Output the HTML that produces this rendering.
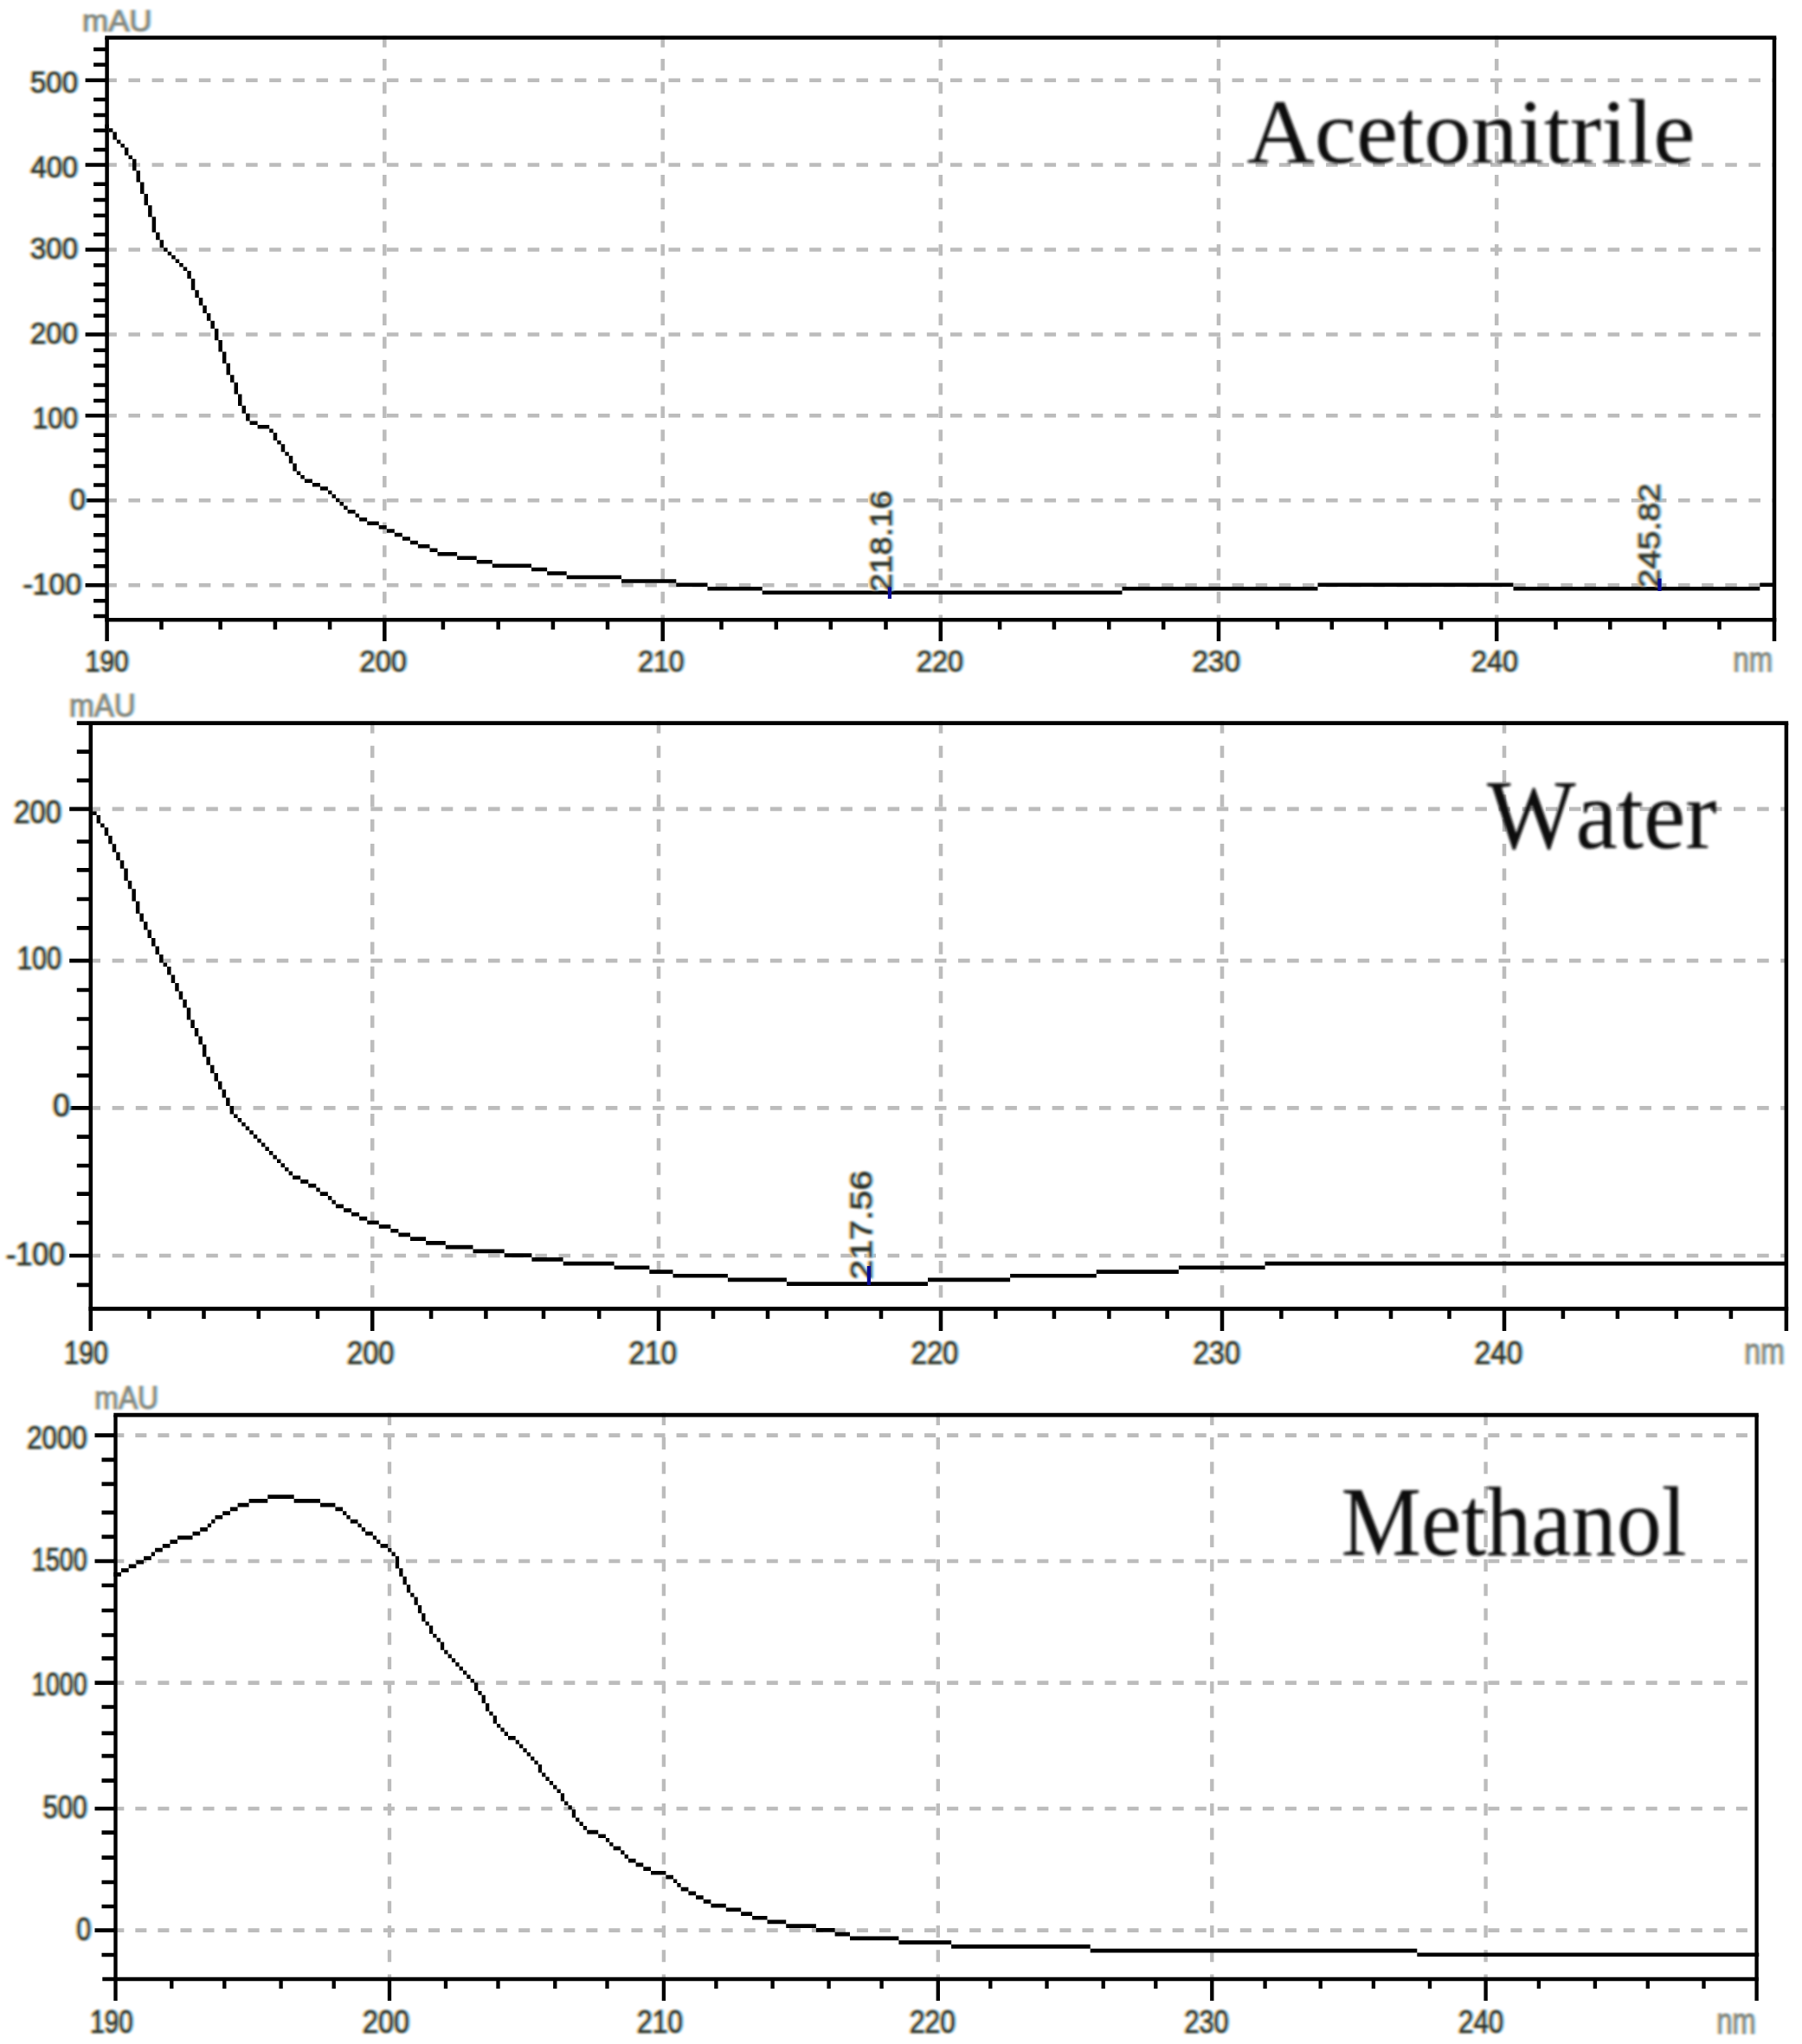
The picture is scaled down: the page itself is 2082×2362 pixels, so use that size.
<!DOCTYPE html>
<html lang="en">
<head>
<meta charset="utf-8">
<title>UV spectra: Acetonitrile, Water, Methanol</title>
<style>
html,body{margin:0;padding:0;background:#fff;}
body{width:2082px;height:2362px;overflow:hidden;}
svg{display:block;}
svg text{font-family:"Liberation Sans",sans-serif;}
svg .lab{filter:url(#soft);}
svg .lab text{stroke-width:1.1px;}
svg text.title{font-family:"Liberation Serif",serif;fill:#0a0a0a;filter:url(#soft2);font-kerning:none;letter-spacing:0;}
</style>
</head>
<body>
<svg width="2082" height="2362" viewBox="0 0 2082 2362">
<defs><filter id="soft" x="-5%" y="-5%" width="110%" height="110%"><feGaussianBlur in="SourceAlpha" stdDeviation="1.1" result="a"/><feOffset in="a" dx="-2" result="a1"/><feFlood flood-color="#ffcf7a"/><feComposite operator="in" in2="a1" result="y"/><feFlood flood-color="#5c455c"/><feComposite operator="in" in2="a" result="m"/><feOffset in="a" dx="2" result="a3"/><feFlood flood-color="#86d6ff"/><feComposite operator="in" in2="a3" result="c"/><feBlend mode="multiply" in="y" in2="m" result="ym"/><feBlend mode="multiply" in="ym" in2="c" result="f"/><feComponentTransfer in="f"><feFuncA type="linear" slope="1"/></feComponentTransfer></filter><filter id="soft2" x="-5%" y="-5%" width="110%" height="110%"><feGaussianBlur stdDeviation="1.5"/></filter></defs>
<rect width="2082" height="2362" fill="#fff"/>
<g>
<path d="M121.3 92.7H2050M121.3 190.6H2050M121.3 288.5H2050M121.3 386.5H2050M121.3 480.3H2050M121.3 578.3H2050M121.3 676.3H2050" fill="none" stroke="#bcbcbc" stroke-width="4.453" stroke-dasharray="13.565 13.565"/>
<path d="M444.3 41.3V716.3M765.7 41.3V716.3M1086.8 41.3V716.3M1408 41.3V716.3M1729.2 41.3V716.3" fill="none" stroke="#bcbcbc" stroke-width="4.52" stroke-dasharray="13.385 13.385"/>
<path d="M288.6 486.6h9v4.5h-9zM297.6 491.1h13.6v4.5h-13.6zM351.9 553.4h9v4.5h-9zM360.9 557.9h9v4.5h-9zM369.9 562.3h9v4.5h-9zM401.6 589h9v4.5h-9zM415.1 597.9h9v4.5h-9zM424.2 602.4h13.6v4.5h-13.6zM437.7 606.9h9v4.5h-9zM446.8 611.3h9v4.5h-9zM455.8 615.8h9v4.5h-9zM464.9 620.2h9v4.5h-9zM473.9 624.7h9v4.5h-9zM482.9 629.1h13.6v4.5h-13.6zM496.5 633.6h9v4.5h-9zM505.5 638h22.6v4.5h-22.6zM528.1 642.5h22.6v4.5h-22.6zM550.7 646.9h18.1v4.5h-18.1zM568.8 651.4h45.2v4.5h-45.2zM614 655.8h18.1v4.5h-18.1zM632.1 660.3h22.6v4.5h-22.6zM654.7 664.7h63.3v4.5h-63.3zM718 669.2h63.3v4.5h-63.3zM781.3 673.6h36.2v4.5h-36.2zM1522.5 673.6h226v4.5h-226zM2033.3 673.6h18.1v4.5h-18.1zM817.4 678.1h63.3v4.5h-63.3zM1296.5 678.1h226v4.5h-226zM1748.5 678.1h284.8v4.5h-284.8zM880.7 682.6h415.8v4.5h-415.8zM121.3 143.7h4.5v4.5h-4.5zM125.9 148.2h4.5v4.5h-4.5zM130.4 152.6h4.5v8.9h-4.5zM134.9 161.6h4.5v4.5h-4.5zM139.4 166h4.5v4.5h-4.5zM143.9 170.5h4.5v8.9h-4.5zM148.5 179.4h4.5v4.5h-4.5zM153 183.8h4.5v13.4h-4.5zM157.5 197.2h4.5v13.4h-4.5zM162 210.5h4.5v13.4h-4.5zM166.5 223.9h4.5v13.4h-4.5zM171.1 237.3h4.5v13.4h-4.5zM175.6 250.6h4.5v17.8h-4.5zM180.1 268.4h4.5v8.9h-4.5zM184.6 277.3h4.5v8.9h-4.5zM189.1 286.2h4.5v4.5h-4.5zM193.7 290.7h4.5v4.5h-4.5zM198.2 295.1h4.5v4.5h-4.5zM202.7 299.6h4.5v4.5h-4.5zM207.2 304.1h4.5v4.5h-4.5zM211.7 308.5h4.5v4.5h-4.5zM216.3 313h4.5v8.9h-4.5zM220.8 321.9h4.5v13.4h-4.5zM225.3 335.2h4.5v8.9h-4.5zM229.8 344.1h4.5v8.9h-4.5zM234.3 353h4.5v8.9h-4.5zM238.9 361.9h4.5v8.9h-4.5zM243.4 370.8h4.5v8.9h-4.5zM247.9 379.8h4.5v13.4h-4.5zM252.4 393.1h4.5v13.4h-4.5zM256.9 406.5h4.5v13.4h-4.5zM261.5 419.8h4.5v13.4h-4.5zM266 433.2h4.5v8.9h-4.5zM270.5 442.1h4.5v13.4h-4.5zM275 455.5h4.5v13.4h-4.5zM279.5 468.8h4.5v8.9h-4.5zM284.1 477.7h4.5v8.9h-4.5zM311.2 495.5h4.5v4.5h-4.5zM315.7 500h4.5v8.9h-4.5zM320.2 508.9h4.5v4.5h-4.5zM324.7 513.3h4.5v8.9h-4.5zM329.3 522.2h4.5v4.5h-4.5zM333.8 526.7h4.5v8.9h-4.5zM338.3 535.6h4.5v8.9h-4.5zM342.8 544.5h4.5v4.5h-4.5zM347.3 549h4.5v4.5h-4.5zM379 566.8h4.5v4.5h-4.5zM383.5 571.2h4.5v4.5h-4.5zM388 575.7h4.5v4.5h-4.5zM392.5 580.1h4.5v4.5h-4.5zM397.1 584.6h4.5v4.5h-4.5zM410.6 593.5h4.5v4.5h-4.5z" fill="#000"/>
<path d="M121.3 43.5H2052.3M121.3 716.3H2052.3M123.6 92.7H98.6M123.6 190.6H98.6M123.6 288.5H98.6M123.6 386.5H98.6M123.6 480.3H98.6M123.6 578.3H98.6M123.6 676.3H98.6M123.6 56.9H108.1M123.6 74.7H108.1M123.6 114.9H108.1M123.6 132.9H108.1M123.6 150.7H108.1M123.6 173H108.1M123.6 212.8H108.1M123.6 231H108.1M123.6 248.9H108.1M123.6 271H108.1M123.6 306.6H108.1M123.6 328.7H108.1M123.6 347H108.1M123.6 364.8H108.1M123.6 404.7H108.1M123.6 422.5H108.1M123.6 444.9H108.1M123.6 462.9H108.1M123.6 502.8H108.1M123.6 520.6H108.1M123.6 538.4H108.1M123.6 560.6H108.1M123.6 596H108.1M123.6 618.3H108.1M123.6 636.3H108.1M123.6 654.2H108.1M123.6 694.2H108.1M123.6 712H108.1" fill="none" stroke="#000" stroke-width="4.453"/>
<path d="M123.6 43.5V741M2050 43.5V741M444.3 716.3V741M765.7 716.3V741M1086.8 716.3V741M1408 716.3V741M1729.2 716.3V741M186.5 716.3V727.6M254.6 716.3V727.6M317.9 716.3V727.6M381.1 716.3V727.6M511.9 716.3V727.6M575.7 716.3V727.6M638.9 716.3V727.6M702 716.3V727.6M833.5 716.3V727.6M896.8 716.3V727.6M959.8 716.3V727.6M1023.5 716.3V727.6M1155.1 716.3V727.6M1217.9 716.3V727.6M1281.3 716.3V727.6M1344.2 716.3V727.6M1476 716.3V727.6M1538.8 716.3V727.6M1601.7 716.3V727.6M1665.1 716.3V727.6M1797.5 716.3V727.6M1860.3 716.3V727.6M1923.2 716.3V727.6M1986.5 716.3V727.6" fill="none" stroke="#000" stroke-width="4.52"/>
<g class="lab">
<text x="35" y="107" font-size="35" fill="#3a3a3a" stroke="#3a3a3a" textLength="55" lengthAdjust="spacingAndGlyphs">500</text>
<text x="35.5" y="205.2" font-size="35" fill="#3a3a3a" stroke="#3a3a3a" textLength="54.5" lengthAdjust="spacingAndGlyphs">400</text>
<text x="35" y="298.7" font-size="35" fill="#3a3a3a" stroke="#3a3a3a" textLength="55" lengthAdjust="spacingAndGlyphs">300</text>
<text x="35" y="396.9" font-size="35" fill="#3a3a3a" stroke="#3a3a3a" textLength="55" lengthAdjust="spacingAndGlyphs">200</text>
<text x="38" y="494.8" font-size="35" fill="#3a3a3a" stroke="#3a3a3a" textLength="52" lengthAdjust="spacingAndGlyphs">100</text>
<text x="80.7" y="588.5" font-size="35" fill="#3a3a3a" stroke="#3a3a3a" textLength="18.3" lengthAdjust="spacingAndGlyphs">0</text>
<text x="26.6" y="686.6" font-size="35" fill="#3a3a3a" stroke="#3a3a3a" textLength="67.6" lengthAdjust="spacingAndGlyphs">-100</text>
<text x="98.8" y="775.5" font-size="35" fill="#3a3a3a" stroke="#3a3a3a" textLength="49.9" lengthAdjust="spacingAndGlyphs">190</text>
<text x="415.5" y="775.5" font-size="35" fill="#3a3a3a" stroke="#3a3a3a" textLength="54.5" lengthAdjust="spacingAndGlyphs">200</text>
<text x="737.2" y="775.5" font-size="35" fill="#3a3a3a" stroke="#3a3a3a" textLength="53.2" lengthAdjust="spacingAndGlyphs">210</text>
<text x="1059" y="775.5" font-size="35" fill="#3a3a3a" stroke="#3a3a3a" textLength="54" lengthAdjust="spacingAndGlyphs">220</text>
<text x="1377.5" y="775.5" font-size="35" fill="#3a3a3a" stroke="#3a3a3a" textLength="55.5" lengthAdjust="spacingAndGlyphs">230</text>
<text x="1700" y="775.5" font-size="35" fill="#3a3a3a" stroke="#3a3a3a" textLength="54" lengthAdjust="spacingAndGlyphs">240</text>
<text opacity="0.62" x="94.9" y="36.2" font-size="35" fill="#7d7d7d" stroke="#7d7d7d" textLength="80.7" lengthAdjust="spacingAndGlyphs">mAU</text>
<text opacity="0.62" x="2002.5" y="776.3" font-size="41" fill="#7d7d7d" stroke="#7d7d7d" textLength="45.5" lengthAdjust="spacingAndGlyphs">nm</text>
<text transform="translate(1030 684) rotate(-90)" font-size="35" fill="#3a3a3a" stroke="#3a3a3a" textLength="117" lengthAdjust="spacingAndGlyphs">218.16</text>
<text transform="translate(1917.5 679.5) rotate(-90)" font-size="35" fill="#3a3a3a" stroke="#3a3a3a" textLength="121" lengthAdjust="spacingAndGlyphs">245.82</text>
</g>
<line x1="1027.9" y1="678.4" x2="1027.9" y2="691.9" stroke="#0a0a96" stroke-width="4.2"/>
<line x1="1917.5" y1="668.5" x2="1917.5" y2="683" stroke="#0a0a96" stroke-width="4.2"/>
<text class="title" transform="translate(1440.5 188) scale(1.0848 1.0687)" font-size="100">Acetonitrile</text>
</g>
<g>
<path d="M102.5 934.9H2063.9M102.5 1110.1H2063.9M102.5 1280.3H2063.9M102.5 1451H2063.9" fill="none" stroke="#bcbcbc" stroke-width="4.73" stroke-dasharray="13.575 13.575"/>
<path d="M430.2 833.3V1512.4M761 833.3V1512.4M1087 833.3V1512.4M1412 833.3V1512.4M1738 833.3V1512.4" fill="none" stroke="#bcbcbc" stroke-width="4.53" stroke-dasharray="14.175 14.175"/>
<path d="M338.1 1358.4h9.1v4.7h-9.1zM347.2 1363.1h9.1v4.7h-9.1zM356.2 1367.8h9.1v4.7h-9.1zM369.8 1377.3h9.1v4.7h-9.1zM387.9 1391.5h9.1v4.7h-9.1zM397 1396.2h9.1v4.7h-9.1zM406 1400.9h9.1v4.7h-9.1zM415.1 1405.7h9.1v4.7h-9.1zM424.2 1410.4h13.6v4.7h-13.6zM437.8 1415.1h13.6v4.7h-13.6zM451.3 1419.9h9.1v4.7h-9.1zM460.4 1424.6h13.6v4.7h-13.6zM474 1429.3h18.1v4.7h-18.1zM492.1 1434h22.7v4.7h-22.7zM514.8 1438.8h31.7v4.7h-31.7zM546.5 1443.5h36.2v4.7h-36.2zM582.7 1448.2h31.7v4.7h-31.7zM614.4 1453h36.2v4.7h-36.2zM650.7 1457.7h58.9v4.7h-58.9zM1461.5 1457.7h602.5v4.7h-602.5zM709.6 1462.4h40.8v4.7h-40.8zM1361.9 1462.4h99.7v4.7h-99.7zM750.3 1467.2h27.2v4.7h-27.2zM1266.7 1467.2h95.1v4.7h-95.1zM777.5 1471.9h63.4v4.7h-63.4zM1167.1 1471.9h99.7v4.7h-99.7zM840.9 1476.6h68v4.7h-68zM1072 1476.6h95.1v4.7h-95.1zM908.9 1481.3h163.1v4.7h-163.1zM107.1 937.4h4.5v4.7h-4.5zM111.6 942.1h4.5v9.5h-4.5zM116.1 951.6h4.5v4.7h-4.5zM120.7 956.3h4.5v9.5h-4.5zM125.2 965.8h4.5v9.5h-4.5zM129.7 975.2h4.5v9.5h-4.5zM134.2 984.7h4.5v9.5h-4.5zM138.8 994.2h4.5v9.5h-4.5zM143.3 1003.6h4.5v14.2h-4.5zM147.8 1017.8h4.5v9.5h-4.5zM152.4 1027.3h4.5v14.2h-4.5zM156.9 1041.5h4.5v14.2h-4.5zM161.4 1055.6h4.5v9.5h-4.5zM166 1065.1h4.5v9.5h-4.5zM170.5 1074.6h4.5v9.5h-4.5zM175 1084h4.5v9.5h-4.5zM179.5 1093.5h4.5v9.5h-4.5zM184.1 1102.9h4.5v9.5h-4.5zM188.6 1112.4h4.5v4.7h-4.5zM193.1 1117.1h4.5v9.5h-4.5zM197.7 1126.6h4.5v9.5h-4.5zM202.2 1136.1h4.5v9.5h-4.5zM206.7 1145.5h4.5v9.5h-4.5zM211.3 1155h4.5v9.5h-4.5zM215.8 1164.4h4.5v14.2h-4.5zM220.3 1178.6h4.5v9.5h-4.5zM224.8 1188.1h4.5v9.5h-4.5zM229.4 1197.5h4.5v9.5h-4.5zM233.9 1207h4.5v14.2h-4.5zM238.4 1221.2h4.5v9.5h-4.5zM243 1230.7h4.5v9.5h-4.5zM247.5 1240.1h4.5v9.5h-4.5zM252 1249.6h4.5v9.5h-4.5zM256.6 1259h4.5v9.5h-4.5zM261.1 1268.5h4.5v9.5h-4.5zM265.6 1278h4.5v9.5h-4.5zM270.1 1287.4h4.5v4.7h-4.5zM274.7 1292.1h4.5v4.7h-4.5zM279.2 1296.9h4.5v4.7h-4.5zM283.7 1301.6h4.5v4.7h-4.5zM288.3 1306.3h4.5v4.7h-4.5zM292.8 1311.1h4.5v4.7h-4.5zM297.3 1315.8h4.5v4.7h-4.5zM301.9 1320.5h4.5v4.7h-4.5zM306.4 1325.3h4.5v4.7h-4.5zM310.9 1330h4.5v4.7h-4.5zM315.4 1334.7h4.5v4.7h-4.5zM320 1339.4h4.5v4.7h-4.5zM324.5 1344.2h4.5v4.7h-4.5zM329 1348.9h4.5v4.7h-4.5zM333.6 1353.6h4.5v4.7h-4.5zM365.3 1372.6h4.5v4.7h-4.5zM378.9 1382h4.5v4.7h-4.5zM383.4 1386.7h4.5v4.7h-4.5z" fill="#000"/>
<path d="M88.8 835.7H2066.2M102.5 1512.4H2066.2M104.8 934.9H80.2M104.8 1110.1H80.2M104.8 1280.3H80.2M104.8 1451H80.2M104.8 868.6H88.8M104.8 901.9H88.8M104.8 972.5H88.8M104.8 1005.3H88.8M104.8 1039H88.8M104.8 1072.4H88.8M104.8 1144H88.8M104.8 1177.5H88.8M104.8 1211H88.8M104.8 1242.8H88.8M104.8 1313.7H88.8M104.8 1347H88.8M104.8 1379.6H88.8M104.8 1413H88.8M104.8 1484.8H88.8" fill="none" stroke="#000" stroke-width="4.73"/>
<path d="M104.8 835.7V1538M2063.9 835.7V1538M430.2 1512.4V1538M761 1512.4V1538M1087 1512.4V1538M1412 1512.4V1538M1738 1512.4V1538M172.5 1512.4V1524M235.5 1512.4V1524M298.8 1512.4V1524M367 1512.4V1524M498.1 1512.4V1524M561.4 1512.4V1524M628 1512.4V1524M692.2 1512.4V1524M824 1512.4V1524M887 1512.4V1524M955 1512.4V1524M1018 1512.4V1524M1150.4 1512.4V1524M1217.9 1512.4V1524M1281.4 1512.4V1524M1348.6 1512.4V1524M1480.4 1512.4V1524M1544 1512.4V1524M1607 1512.4V1524M1674.5 1512.4V1524M1805.9 1512.4V1524M1868.9 1512.4V1524M1936.8 1512.4V1524M1999.9 1512.4V1524" fill="none" stroke="#000" stroke-width="4.53"/>
<g class="lab">
<text x="16.3" y="950.8" font-size="37" fill="#3a3a3a" stroke="#3a3a3a" textLength="54.5" lengthAdjust="spacingAndGlyphs">200</text>
<text x="19.9" y="1120.2" font-size="37" fill="#3a3a3a" stroke="#3a3a3a" textLength="51" lengthAdjust="spacingAndGlyphs">100</text>
<text x="61" y="1290.2" font-size="37" fill="#3a3a3a" stroke="#3a3a3a" textLength="19.9" lengthAdjust="spacingAndGlyphs">0</text>
<text x="7" y="1462" font-size="37" fill="#3a3a3a" stroke="#3a3a3a" textLength="68.2" lengthAdjust="spacingAndGlyphs">-100</text>
<text x="74.3" y="1575.5" font-size="37" fill="#3a3a3a" stroke="#3a3a3a" textLength="50.6" lengthAdjust="spacingAndGlyphs">190</text>
<text x="401" y="1575.5" font-size="37" fill="#3a3a3a" stroke="#3a3a3a" textLength="54.4" lengthAdjust="spacingAndGlyphs">200</text>
<text x="726.4" y="1575.5" font-size="37" fill="#3a3a3a" stroke="#3a3a3a" textLength="55.6" lengthAdjust="spacingAndGlyphs">210</text>
<text x="1052.7" y="1575.5" font-size="37" fill="#3a3a3a" stroke="#3a3a3a" textLength="54.6" lengthAdjust="spacingAndGlyphs">220</text>
<text x="1378.8" y="1575.5" font-size="37" fill="#3a3a3a" stroke="#3a3a3a" textLength="54.2" lengthAdjust="spacingAndGlyphs">230</text>
<text x="1703.8" y="1575.5" font-size="37" fill="#3a3a3a" stroke="#3a3a3a" textLength="55.4" lengthAdjust="spacingAndGlyphs">240</text>
<text opacity="0.62" x="80" y="828" font-size="37" fill="#7d7d7d" stroke="#7d7d7d" textLength="76.5" lengthAdjust="spacingAndGlyphs">mAU</text>
<text opacity="0.62" x="2015.5" y="1576.3" font-size="43" fill="#7d7d7d" stroke="#7d7d7d" textLength="46.5" lengthAdjust="spacingAndGlyphs">nm</text>
<text transform="translate(1007 1478.7) rotate(-90)" font-size="35" fill="#3a3a3a" stroke="#3a3a3a" textLength="126" lengthAdjust="spacingAndGlyphs">217.56</text>
</g>
<line x1="1003.9" y1="1463" x2="1003.9" y2="1485" stroke="#0a0a96" stroke-width="4.2"/>
<text class="title" transform="translate(1718 979.8) scale(1.0872 1.1352)" font-size="100">Water</text>
</g>
<g>
<path d="M130.3 1658.6H2029.6M130.3 1804H2029.6M130.3 1944.6H2029.6M130.3 2090H2029.6M130.3 2230.6H2029.6" fill="none" stroke="#bcbcbc" stroke-width="4.724" stroke-dasharray="13.025 13.025"/>
<path d="M450 1632.8V2287M766.9 1632.8V2287M1083.8 1632.8V2287M1400.3 1632.8V2287M1716.6 1632.8V2287" fill="none" stroke="#bcbcbc" stroke-width="4.34" stroke-dasharray="14.1 14.1"/>
<path d="M309.3 1727.3h30.4v4.7h-30.4zM287.6 1732h21.7v4.7h-21.7zM339.6 1732h30.4v4.7h-30.4zM274.6 1736.8h13v4.7h-13zM370 1736.8h17.4v4.7h-17.4zM265.9 1741.5h8.7v4.7h-8.7zM387.4 1741.5h8.7v4.7h-8.7zM257.2 1746.2h8.7v4.7h-8.7zM248.5 1750.9h8.7v4.7h-8.7zM404.8 1755.7h8.7v4.7h-8.7zM231.2 1765.1h8.7v4.7h-8.7zM222.5 1769.8h8.7v4.7h-8.7zM422.1 1769.8h8.7v4.7h-8.7zM205.1 1774.6h17.4v4.7h-17.4zM196.4 1779.3h8.7v4.7h-8.7zM187.8 1784h8.7v4.7h-8.7zM439.5 1784h8.7v4.7h-8.7zM179.1 1788.7h8.7v4.7h-8.7zM166.1 1798.2h8.7v4.7h-8.7zM157.4 1802.9h8.7v4.7h-8.7zM148.7 1807.6h8.7v4.7h-8.7zM140 1812.3h8.7v4.7h-8.7zM131.3 1817.1h8.7v4.7h-8.7zM587 2006h8.7v4.7h-8.7zM678.2 2114.7h13v4.7h-13zM691.2 2119.4h8.7v4.7h-8.7zM708.6 2133.6h8.7v4.7h-8.7zM725.9 2147.8h8.7v4.7h-8.7zM734.6 2152.5h8.7v4.7h-8.7zM743.3 2157.2h8.7v4.7h-8.7zM752 2161.9h17.4v4.7h-17.4zM769.3 2166.7h8.7v4.7h-8.7zM786.7 2180.8h8.7v4.7h-8.7zM795.4 2185.5h8.7v4.7h-8.7zM804 2190.3h8.7v4.7h-8.7zM812.7 2195h8.7v4.7h-8.7zM821.4 2199.7h17.4v4.7h-17.4zM838.8 2204.4h17.4v4.7h-17.4zM856.1 2209.2h13v4.7h-13zM869.1 2213.9h17.4v4.7h-17.4zM886.5 2218.6h21.7v4.7h-21.7zM908.2 2223.3h34.7v4.7h-34.7zM942.9 2228.1h21.7v4.7h-21.7zM964.6 2232.8h17.4v4.7h-17.4zM982 2237.5h56.4v4.7h-56.4zM1038.4 2242.2h60.8v4.7h-60.8zM1099.1 2247h160.6v4.7h-160.6zM1259.7 2251.7h377.6v4.7h-377.6zM1637.3 2256.4h394.9v4.7h-394.9zM174.7 1793.5h4.3v4.7h-4.3zM239.8 1760.4h4.3v4.7h-4.3zM244.2 1755.7h4.3v4.7h-4.3zM396.1 1746.2h4.3v4.7h-4.3zM400.4 1750.9h4.3v4.7h-4.3zM413.4 1760.4h4.3v4.7h-4.3zM417.8 1765.1h4.3v4.7h-4.3zM430.8 1774.6h4.3v4.7h-4.3zM435.1 1779.3h4.3v4.7h-4.3zM448.1 1788.7h4.3v4.7h-4.3zM452.5 1793.5h4.3v4.7h-4.3zM456.8 1798.2h4.3v14.2h-4.3zM461.2 1812.3h4.3v9.4h-4.3zM465.5 1821.8h4.3v9.4h-4.3zM469.9 1831.2h4.3v9.4h-4.3zM474.2 1840.7h4.3v4.7h-4.3zM478.5 1845.4h4.3v9.4h-4.3zM482.9 1854.9h4.3v9.4h-4.3zM487.2 1864.3h4.3v9.4h-4.3zM491.5 1873.8h4.3v4.7h-4.3zM495.9 1878.5h4.3v9.4h-4.3zM500.2 1887.9h4.3v4.7h-4.3zM504.6 1892.7h4.3v4.7h-4.3zM508.9 1897.4h4.3v9.4h-4.3zM513.2 1906.8h4.3v4.7h-4.3zM517.6 1911.6h4.3v4.7h-4.3zM521.9 1916.3h4.3v4.7h-4.3zM526.3 1921h4.3v4.7h-4.3zM530.6 1925.7h4.3v4.7h-4.3zM535 1930.5h4.3v4.7h-4.3zM539.3 1935.2h4.3v4.7h-4.3zM543.6 1939.9h4.3v4.7h-4.3zM548 1944.6h4.3v9.4h-4.3zM552.3 1954.1h4.3v4.7h-4.3zM556.6 1958.8h4.3v9.4h-4.3zM561 1968.2h4.3v9.4h-4.3zM565.3 1977.7h4.3v4.7h-4.3zM569.7 1982.4h4.3v9.4h-4.3zM574 1991.9h4.3v4.7h-4.3zM578.4 1996.6h4.3v4.7h-4.3zM582.7 2001.3h4.3v4.7h-4.3zM595.7 2010.8h4.3v4.7h-4.3zM600 2015.5h4.3v4.7h-4.3zM604.4 2020.2h4.3v4.7h-4.3zM608.7 2024.9h4.3v4.7h-4.3zM613.1 2029.7h4.3v4.7h-4.3zM617.4 2034.4h4.3v4.7h-4.3zM621.8 2039.1h4.3v9.4h-4.3zM626.1 2048.6h4.3v4.7h-4.3zM630.4 2053.3h4.3v4.7h-4.3zM634.8 2058h4.3v4.7h-4.3zM639.1 2062.7h4.3v4.7h-4.3zM643.5 2067.4h4.3v4.7h-4.3zM647.8 2072.2h4.3v9.4h-4.3zM652.1 2081.6h4.3v4.7h-4.3zM656.5 2086.3h4.3v4.7h-4.3zM660.8 2091.1h4.3v9.4h-4.3zM665.1 2100.5h4.3v4.7h-4.3zM669.5 2105.2h4.3v4.7h-4.3zM673.8 2110h4.3v4.7h-4.3zM699.9 2124.1h4.3v4.7h-4.3zM704.2 2128.9h4.3v4.7h-4.3zM717.2 2138.3h4.3v4.7h-4.3zM721.6 2143h4.3v4.7h-4.3zM778 2171.4h4.3v4.7h-4.3zM782.3 2176.1h4.3v4.7h-4.3z" fill="#000"/>
<path d="M131.3 1635.2H2031.8M118.3 2287H2031.8M133.5 1658.6H109.5M133.5 1804H109.5M133.5 1944.6H109.5M133.5 2090H109.5M133.5 2230.6H109.5M133.5 1686.8H117.5M133.5 1714.9H117.5M133.5 1747.8H117.5M133.5 1775.8H117.5M133.5 1832H117.5M133.5 1861H117.5M133.5 1889.5H117.5M133.5 1916.4H117.5M133.5 1972.5H117.5M133.5 2002.8H117.5M133.5 2029.2H117.5M133.5 2057.6H117.5M133.5 2117.7H117.5M133.5 2146.7H117.5M133.5 2175H117.5M133.5 2203H117.5M133.5 2259H117.5" fill="none" stroke="#000" stroke-width="4.724"/>
<path d="M133.5 1635.2V2312M2029.6 1635.2V2312M450 2287V2312M766.9 2287V2312M1083.8 2287V2312M1400.3 2287V2312M1716.6 2287V2312M198.3 2287V2298M259.3 2287V2298M324.6 2287V2298M385.7 2287V2298M515 2287V2298M575.5 2287V2298M641.3 2287V2298M701.5 2287V2298M827.4 2287V2298M892.6 2287V2298M957.6 2287V2298M1018.6 2287V2298M1144.3 2287V2298M1209.5 2287V2298M1274.7 2287V2298M1335.3 2287V2298M1461.6 2287V2298M1525.7 2287V2298M1586.9 2287V2298M1652 2287V2298M1777.9 2287V2298M1842.9 2287V2298M1903.8 2287V2298M1968.5 2287V2298" fill="none" stroke="#000" stroke-width="4.34"/>
<g class="lab">
<text x="31.2" y="1673.5" font-size="37" fill="#3a3a3a" stroke="#3a3a3a" textLength="69.5" lengthAdjust="spacingAndGlyphs">2000</text>
<text x="37" y="1814.5" font-size="37" fill="#3a3a3a" stroke="#3a3a3a" textLength="63.7" lengthAdjust="spacingAndGlyphs">1500</text>
<text x="37" y="1959" font-size="37" fill="#3a3a3a" stroke="#3a3a3a" textLength="63.7" lengthAdjust="spacingAndGlyphs">1000</text>
<text x="49.7" y="2101" font-size="37" fill="#3a3a3a" stroke="#3a3a3a" textLength="51" lengthAdjust="spacingAndGlyphs">500</text>
<text x="88.2" y="2241.7" font-size="37" fill="#3a3a3a" stroke="#3a3a3a" textLength="17" lengthAdjust="spacingAndGlyphs">0</text>
<text x="104.3" y="2349" font-size="37" fill="#3a3a3a" stroke="#3a3a3a" textLength="49.3" lengthAdjust="spacingAndGlyphs">190</text>
<text x="419" y="2349" font-size="37" fill="#3a3a3a" stroke="#3a3a3a" textLength="54" lengthAdjust="spacingAndGlyphs">200</text>
<text x="736" y="2349" font-size="37" fill="#3a3a3a" stroke="#3a3a3a" textLength="53" lengthAdjust="spacingAndGlyphs">210</text>
<text x="1051" y="2349" font-size="37" fill="#3a3a3a" stroke="#3a3a3a" textLength="52.7" lengthAdjust="spacingAndGlyphs">220</text>
<text x="1368.6" y="2349" font-size="37" fill="#3a3a3a" stroke="#3a3a3a" textLength="51" lengthAdjust="spacingAndGlyphs">230</text>
<text x="1685" y="2349" font-size="37" fill="#3a3a3a" stroke="#3a3a3a" textLength="52.3" lengthAdjust="spacingAndGlyphs">240</text>
<text opacity="0.62" x="109.3" y="1627.5" font-size="37" fill="#7d7d7d" stroke="#7d7d7d" textLength="73.7" lengthAdjust="spacingAndGlyphs">mAU</text>
<text opacity="0.62" x="1983.5" y="2349.8" font-size="43" fill="#7d7d7d" stroke="#7d7d7d" textLength="45" lengthAdjust="spacingAndGlyphs">nm</text>
</g>
<text class="title" transform="translate(1549.5 1796.8) scale(1.0416 1.1338)" font-size="100">Methanol</text>
</g>
</svg>
</body>
</html>
